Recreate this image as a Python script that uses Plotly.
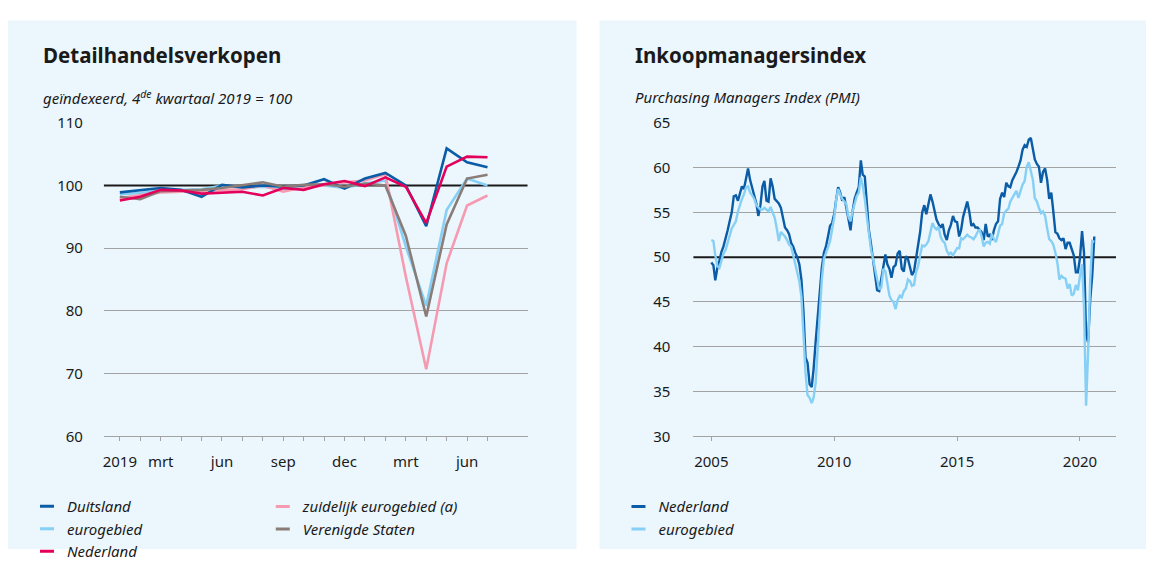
import pandas as pd
import plotly.graph_objects as go

# ---------------- data: left panel (retail sales, index Q4 2019 = 100) ----------------
months = ["jan 2019", "feb 2019", "mrt 2019", "apr 2019", "mei 2019", "jun 2019", "jul 2019",
          "aug 2019", "sep 2019", "okt 2019", "nov 2019", "dec 2019", "jan 2020", "feb 2020",
          "mrt 2020", "apr 2020", "mei 2020", "jun 2020", "jul 2020"]
month_ticktext = ["2019", "", "mrt", "", "", "jun", "", "", "sep", "", "", "dec",
                  "", "", "mrt", "", "", "jun", ""]
duitsland = [98.9, 99.2, 99.6, 99.3, 98.2, 100.1, 99.7, 100.0, 99.8, 100.0, 101.0, 99.5,
             101.1, 102.0, 100.0, 93.5, 105.9, 103.7, 102.9]
eurogebied_rs = [98.6, 98.8, 99.2, 99.3, 99.4, 100.0, 99.6, 99.8, 99.4, 99.9, 100.0, 99.6,
                 100.3, 100.8, 90.3, 80.8, 96.1, 101.1, 100.0]
nederland_rs = [97.6, 98.2, 99.3, 99.2, 98.7, 98.8, 99.0, 98.4, 99.6, 99.3, 100.2, 100.7,
                99.9, 101.3, 99.8, 94.0, 103.0, 104.6, 104.5]
zuidelijk = [98.0, 98.4, 98.9, 99.0, 99.1, 99.2, 99.4, 100.0, 99.0, 99.7, 100.0, 100.5,
             100.8, 101.8, 85.5, 70.7, 87.6, 96.8, 98.4]
verenigde_staten = [98.2, 97.8, 99.1, 99.2, 99.3, 99.6, 100.0, 100.5, 99.8, 100.1, 100.2, 99.8,
                    100.3, 100.0, 92.0, 79.1, 93.8, 101.1, 101.7]
left_grid_ticks = [60, 70, 80, 90, 110]
left_ref_value = 100

# ---------------- data: right panel (PMI, monthly 2005-01 .. 2020-08) ----------------
pmi_start = "2005-01-01"
pmi_nederland = [
    49.4, 49.1, 47.4, 48.8, 49.6, 50.6, 51.2, 52.0, 53.0, 54.0, 55.0, 56.8,  # 2005
    56.9, 56.3, 57.0, 57.9, 57.6, 58.8, 59.9, 58.6, 57.8, 56.9, 56.0, 54.6,  # 2006
    55.8, 57.9, 58.5, 56.3, 56.2, 58.8, 57.9, 56.5, 56.3, 56.0, 55.5, 54.4,  # 2007
    53.3, 53.0, 52.6, 51.6, 51.2, 50.5, 50.0, 49.2, 47.5, 44.0, 38.8, 38.2,  # 2008
    35.8, 35.5, 37.5, 40.6, 43.5, 46.5, 48.8, 50.5, 51.2, 52.3, 53.5, 53.8,  # 2009
    54.8, 56.5, 57.8, 57.2, 56.3, 56.7, 55.5, 54.0, 53.0, 55.1, 56.5, 57.2,  # 2010
    57.8, 60.8, 59.2, 59.0, 56.0, 53.0, 51.5, 49.8, 47.8, 46.3, 46.2, 47.5,  # 2011
    48.7, 50.3, 49.2, 48.7, 47.7, 48.9, 49.1, 50.4, 50.7, 48.7, 48.4, 50.1,  # 2012
    49.8, 48.8, 48.0, 48.4, 49.8, 51.2, 52.8, 55.0, 55.8, 54.8, 56.0, 57.0,  # 2013
    56.2, 55.1, 54.2, 53.7, 53.3, 53.7, 52.5, 51.9, 53.0, 53.6, 54.6, 54.0,  # 2014
    53.9, 52.3, 53.0, 54.5, 55.5, 56.2, 55.1, 53.5, 53.7, 53.3, 53.3, 53.0,  # 2015
    52.8, 51.9, 53.7, 52.3, 52.5, 51.9, 53.0, 53.7, 54.0, 56.5, 57.2, 56.7,  # 2016
    58.3, 57.9, 57.8, 58.6, 59.0, 59.5, 60.1, 60.8, 62.0, 62.5, 62.3, 63.1,  # 2017
    63.3, 62.2, 60.9, 60.4, 60.1, 58.3, 59.5, 59.9, 58.6, 56.5, 57.2, 55.1,  # 2018
    52.8, 52.6, 52.1, 51.9, 52.1, 50.9, 51.6, 51.6, 50.9, 50.2, 48.3, 48.3,  # 2019
    49.9, 52.9, 50.5, 41.3, 40.5, 45.2, 47.9, 52.3,                          # 2020
]
pmi_eurogebied = [
    51.9, 51.8, 50.2, 49.0, 48.8, 49.6, 50.4, 50.8, 51.5, 52.4, 53.2, 53.6,  # 2005
    54.0, 55.1, 55.8, 56.5, 57.0, 57.8, 57.9, 57.2, 56.9, 56.5, 55.8, 55.5,  # 2006
    55.3, 55.3, 55.5, 55.3, 55.1, 55.6, 55.1, 54.4, 53.2, 51.8, 52.8, 52.6,  # 2007
    52.3, 51.9, 51.4, 51.2, 50.2, 49.5, 48.4, 47.3, 45.6, 41.3, 37.1, 34.6,  # 2008
    34.3, 33.7, 34.3, 36.0, 39.9, 44.2, 47.5, 49.8, 50.6, 51.1, 51.8, 53.0,  # 2009
    54.4, 56.5, 57.6, 57.0, 56.5, 56.2, 55.9, 54.5, 54.0, 55.1, 56.0, 56.8,  # 2010
    57.2, 58.9, 58.0, 56.5, 54.5, 52.5, 50.9, 49.8, 48.7, 47.7, 46.4, 46.6,  # 2011
    48.7, 48.4, 46.8, 45.7, 45.2, 45.0, 44.2, 45.2, 45.7, 45.5, 46.2, 46.5,  # 2012
    47.5, 47.3, 46.8, 46.9, 48.3, 49.0, 50.2, 51.3, 51.2, 51.4, 51.8, 52.8,  # 2013
    53.8, 53.3, 53.1, 53.4, 52.3, 51.8, 51.6, 50.7, 50.3, 50.5, 50.2, 50.6,  # 2014
    51.0, 51.0, 52.1, 52.0, 52.2, 52.5, 52.3, 52.2, 52.0, 52.3, 52.8, 53.1,  # 2015
    52.3, 51.2, 51.6, 51.7, 51.5, 52.6, 52.0, 51.7, 52.6, 53.5, 53.7, 54.9,  # 2016
    55.2, 55.4, 56.2, 56.7, 57.0, 57.4, 56.6, 57.4, 58.1, 58.5, 60.1, 60.6,  # 2017
    59.6, 58.6, 56.6, 56.2, 55.5, 54.9, 55.1, 54.6, 53.2, 52.0, 51.8, 51.4,  # 2018
    50.5, 49.3, 47.5, 47.9, 47.7, 47.6, 46.5, 47.0, 45.7, 45.9, 46.9, 46.3,  # 2019
    47.9, 49.2, 44.5, 33.4, 39.4, 47.4, 51.8, 51.7,                          # 2020
]
pmi_dates = pd.date_range(pmi_start, periods=len(pmi_nederland), freq="MS")
pmi_ticks = ["2005-01-01", "2010-01-01", "2015-01-01", "2020-01-01"]
pmi_ticktext = ["2005", "2010", "2015", "2020"]
right_grid_ticks = [30, 35, 40, 45, 55, 60, 65]
right_ref_value = 50

# ---------------- styling ----------------
W, H = 1152, 568
FONT = "Noto Sans"
TXT = "#1a1a1a"
PANEL = "#ebf6fd"
GRID = "#a3a3a3"
C_DE = "#0b5ca6"
C_EU = "#86cff5"
C_NL = "#e4005a"
C_ZU = "#f59ab0"
C_VS = "#8a7c77"


def px(x):
    return x / W


def py(y):
    return 1 - y / H


fig = go.Figure()

left_series = [
    ("eurogebied", eurogebied_rs, C_EU),
    ("zuidelijk eurogebied (a)", zuidelijk, C_ZU),
    ("Duitsland", duitsland, C_DE),
    ("Verenigde Staten", verenigde_staten, C_VS),
    ("Nederland", nederland_rs, C_NL),
]
for name, vals, col in left_series:
    fig.add_trace(go.Scatter(x=months, y=vals, mode="lines", name=name,
                             line=dict(color=col, width=2.6), showlegend=False,
                             xaxis="x", yaxis="y"))

fig.add_trace(go.Scatter(x=pmi_dates, y=pmi_nederland, mode="lines", name="Nederland",
                         line=dict(color=C_DE, width=2.4), showlegend=False,
                         xaxis="x2", yaxis="y2"))
fig.add_trace(go.Scatter(x=pmi_dates, y=pmi_eurogebied, mode="lines", name="eurogebied",
                         line=dict(color=C_EU, width=2.4), showlegend=False,
                         xaxis="x2", yaxis="y2"))


def leg(name, col, legend, xa, ya):
    fig.add_trace(go.Scatter(x=[None], y=[None], mode="markers", name="<i>" + name + "</i>",
                             marker=dict(symbol="line-ew", size=10, color=col,
                                         line=dict(width=3, color=col)),
                             legend=legend, xaxis=xa, yaxis=ya, hoverinfo="skip"))


# legend-only entries; they also bind the overlay axes that carry the 100 / 50 labels
leg("Duitsland", C_DE, "legend", "x", "y3")
leg("eurogebied", C_EU, "legend", "x", "y3")
leg("Nederland", C_NL, "legend", "x", "y3")
leg("zuidelijk eurogebied (a)", C_ZU, "legend2", "x", "y3")
leg("Verenigde Staten", C_VS, "legend2", "x", "y3")
leg("Nederland", C_DE, "legend3", "x2", "y4")
leg("eurogebied", C_EU, "legend3", "x2", "y4")

legend_common = dict(bgcolor="rgba(0,0,0,0)", borderwidth=0, tracegroupgap=0,
                     font=dict(family=FONT, size=15, color=TXT),
                     xanchor="left", yanchor="top", orientation="v", itemwidth=30)

y_top = py(118)
y_bot = py(449)

axis_font = dict(family=FONT, size=15, color=TXT)

common_y = dict(domain=[y_bot, y_top], zeroline=False, showline=False, ticks="",
                tickfont=axis_font, fixedrange=True)

fig.update_layout(
    width=W, height=H, autosize=False,
    margin=dict(l=0, r=0, t=0, b=0),
    paper_bgcolor="white",
    plot_bgcolor="rgba(0,0,0,0)",
    showlegend=True,
    xaxis=dict(domain=[px(103), px(527)], type="category", range=[-0.78, 19.96],
               tickmode="array", tickvals=months, ticktext=month_ticktext,
               ticks="outside", ticklen=4, tickcolor=GRID, tickwidth=1,
               showgrid=False, zeroline=False, showline=True, linecolor=GRID, linewidth=1,
               tickfont=axis_font, ticklabelstandoff=8, anchor="y", fixedrange=True),
    yaxis=dict(range=[60, 110], tickvals=left_grid_ticks, showgrid=True, gridcolor=GRID,
               gridwidth=1, ticklabelstandoff=20, anchor="x", **common_y),
    yaxis3=dict(range=[60, 110], tickvals=[left_ref_value], showgrid=False,
                overlaying="y", side="left", ticklabelstandoff=20, anchor="x", **common_y),
    xaxis2=dict(domain=[px(693), px(1116)], type="date", range=["2004-04-10", "2021-06-20"],
                tickmode="array", tickvals=pmi_ticks, ticktext=pmi_ticktext,
                ticks="outside", ticklen=4, tickcolor=GRID, tickwidth=1,
                showgrid=False, zeroline=False, showline=True, linecolor=GRID, linewidth=1,
                tickfont=axis_font, ticklabelstandoff=8, anchor="y2", fixedrange=True),
    yaxis2=dict(range=[30, 65], tickvals=right_grid_ticks, showgrid=True, gridcolor=GRID,
                gridwidth=1, ticklabelstandoff=22, anchor="x2", **common_y),
    yaxis4=dict(range=[30, 65], tickvals=[right_ref_value], showgrid=False,
                overlaying="y2", side="left", ticklabelstandoff=22, anchor="x2", **common_y),
    legend=dict(x=px(26), y=py(506), **legend_common),
    legend2=dict(x=px(262), y=py(506), **legend_common),
    legend3=dict(x=px(618), y=py(506), **legend_common),
    shapes=[
        dict(type="rect", xref="paper", yref="paper", x0=px(7), x1=px(576), y0=0, y1=py(10),
             fillcolor=PANEL, line=dict(width=0), layer="below"),
        dict(type="rect", xref="paper", yref="paper", x0=px(599), x1=px(1146), y0=0, y1=py(10),
             fillcolor=PANEL, line=dict(width=0), layer="below"),
        dict(type="line", xref="x domain", yref="y", x0=0, x1=1,
             y0=left_ref_value, y1=left_ref_value,
             line=dict(color="#1a1a1a", width=2), layer="below"),
        dict(type="line", xref="x2 domain", yref="y2", x0=0, x1=1,
             y0=right_ref_value, y1=right_ref_value,
             line=dict(color="#1a1a1a", width=2), layer="below"),
    ],
    annotations=[
        dict(text="<b>Detailhandelsverkopen</b>", x=px(40), y=py(46), xref="paper", yref="paper",
             xanchor="left", yanchor="middle", showarrow=False,
             font=dict(family=FONT, size=20.5, color=TXT)),
        dict(text="<i>geïndexeerd, 4<sup>de</sup> kwartaal 2019 = 100</i>", x=px(40), y=py(91),
             xref="paper", yref="paper", xanchor="left", yanchor="middle", showarrow=False,
             font=dict(family=FONT, size=15, color=TXT)),
        dict(text="<b>Inkoopmanagersindex</b>", x=px(633), y=py(46), xref="paper", yref="paper",
             xanchor="left", yanchor="middle", showarrow=False,
             font=dict(family=FONT, size=20.5, color=TXT)),
        dict(text="<i>Purchasing Managers Index (PMI)</i>", x=px(633), y=py(91),
             xref="paper", yref="paper", xanchor="left", yanchor="middle", showarrow=False,
             font=dict(family=FONT, size=15, color=TXT)),
    ],
)

page_css = ("var h=document.documentElement,b=document.body;"
            "h.style.margin='0';h.style.padding='0';h.style.overflow='hidden';"
            "b.style.margin='0';b.style.padding='0';b.style.overflow='hidden';"
            "b.style.height='568px';window.scrollTo(0,0);")
fig.write_html("out.html", config={"displayModeBar": False, "responsive": False},
               post_script=page_css)
